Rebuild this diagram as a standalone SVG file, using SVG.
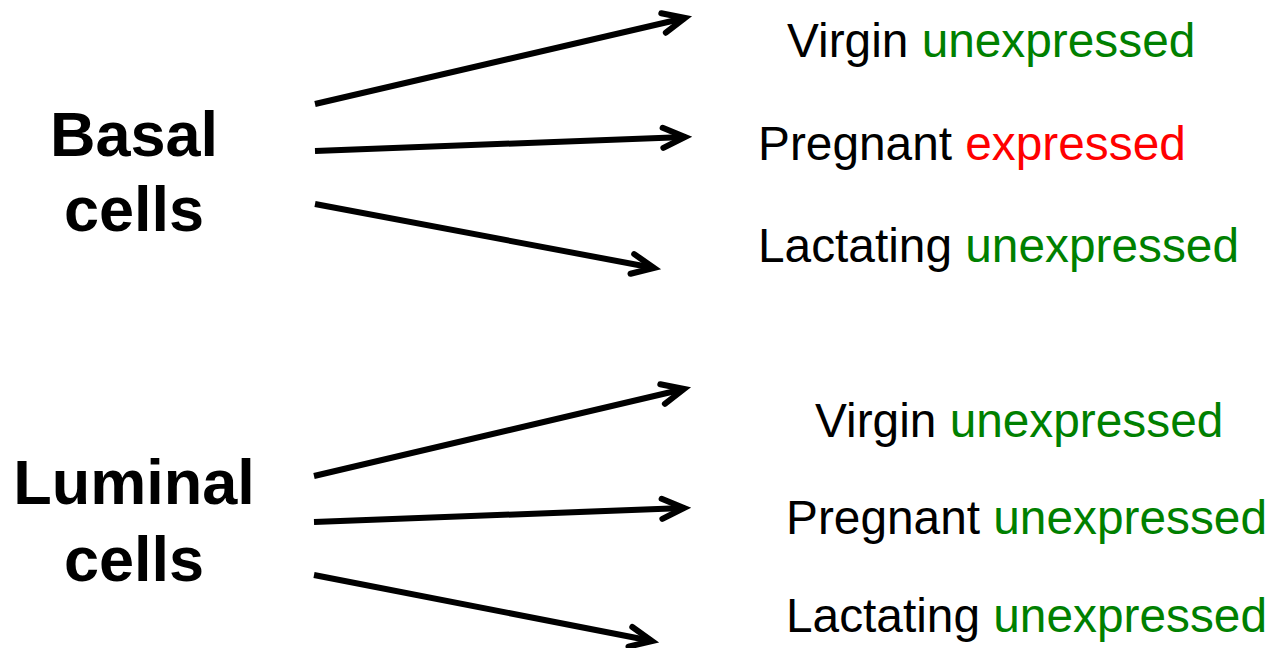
<svg xmlns="http://www.w3.org/2000/svg" width="1272" height="648" viewBox="0 0 1272 648">
<style>
.lbl{font-family:"Liberation Sans",Arial,sans-serif;font-size:63px;font-weight:bold;fill:#000;text-anchor:middle}
.st{font-family:"Liberation Sans",Arial,sans-serif;font-size:47.8px;fill:#000}
.g{fill:#008000}
.r{fill:#ff0000}
.arr{stroke:#000;stroke-width:6;fill:none;marker-end:url(#ah)}
</style>
<defs>
<marker id="ah" markerUnits="userSpaceOnUse" orient="auto" viewBox="-30 -15 40 30" markerWidth="40" markerHeight="30" refX="0" refY="0" overflow="visible">
<path d="M-22,-10 L0,0 L-22,10" fill="none" stroke="#000" stroke-width="6" stroke-linecap="round" stroke-linejoin="miter"/>
</marker>
</defs>
<g id="basal"><text class="lbl" x="134" y="156">Basal</text><text class="lbl" x="134" y="231">cells</text></g>
<g id="luminal"><text class="lbl" x="134" y="504">Luminal</text><text class="lbl" x="134" y="581">cells</text></g>
<g id="b-virgin"><text class="st" x="787" y="57">Virgin <tspan class="g">unexpressed</tspan></text></g>
<g id="b-pregnant"><text class="st" x="758" y="160">Pregnant <tspan class="r">expressed</tspan></text></g>
<g id="b-lactating"><text class="st" x="758" y="262">Lactating <tspan class="g">unexpressed</tspan></text></g>
<g id="l-virgin"><text class="st" x="815" y="437">Virgin <tspan class="g">unexpressed</tspan></text></g>
<g id="l-pregnant"><text class="st" x="786" y="534">Pregnant <tspan class="g">unexpressed</tspan></text></g>
<g id="l-lactating"><text class="st" x="786" y="632">Lactating <tspan class="g">unexpressed</tspan></text></g>
<g id="connectors">
<line class="arr" x1="315" y1="104" x2="685" y2="18"/>
<line class="arr" x1="315" y1="151" x2="685" y2="137"/>
<line class="arr" x1="315" y1="204" x2="654" y2="268"/>
<line class="arr" x1="314" y1="476" x2="684" y2="389"/>
<line class="arr" x1="314" y1="522" x2="684" y2="508"/>
<line class="arr" x1="314" y1="575" x2="652" y2="641"/>
</g>
</svg>
